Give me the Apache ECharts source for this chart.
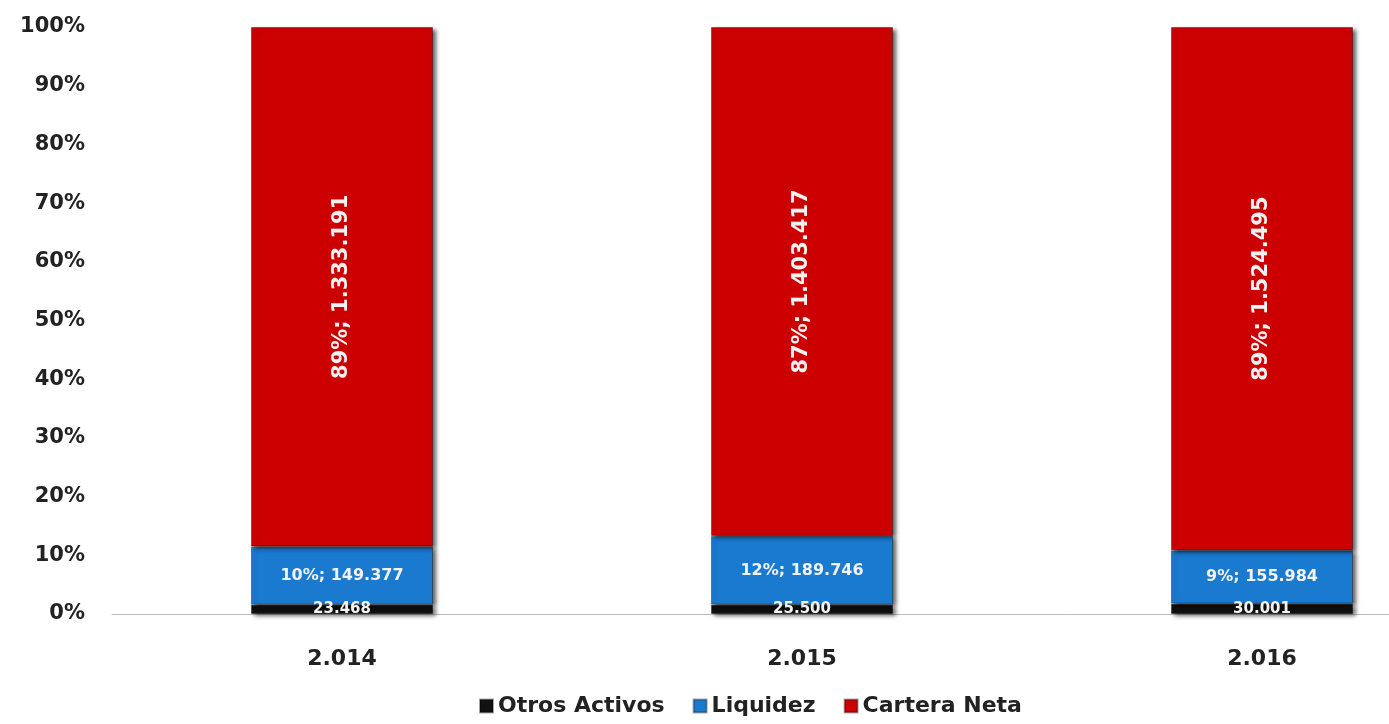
<!DOCTYPE html>
<html>
<head>
<meta charset="utf-8">
<script src="https://cdn.jsdelivr.net/npm/echarts@6/dist/echarts.min.js"></script>
<style>
  body { margin: 0; background: #fff; }
</style>
</head>
<body>
<div id="chart" style="width: 1389px; height: 724px"></div>
<script>
var years = ["2.014", "2.015", "2.016"];
var otrosActivos = [23468, 25500, 30001];
var liquidez = [149377, 189746, 155984];
var carteraNeta = [1333191, 1403417, 1524495];
var yTicks = [0, 10, 20, 30, 40, 50, 60, 70, 80, 90, 100];

// totales por año para el 100% apilado
var totals = years.map(function (y, i) {
  return otrosActivos[i] + liquidez[i] + carteraNeta[i];
});

function fmt(n) {
  return String(n).replace(/\B(?=(\d{3})+(?!\d))/g, ".");
}

function pct(arr) {
  return arr.map(function (v, i) {
    return { value: (v / totals[i]) * 100, raw: v };
  });
}

var font = "DejaVu Sans";
var shadow = {
  borderColor: "rgba(0,0,0,0.35)",
  borderWidth: 1,
  shadowColor: "rgba(0,0,0,0.6)",
  shadowBlur: 4,
  shadowOffsetX: 3,
  shadowOffsetY: 2,
};

var myChart = echarts.init(document.getElementById("chart"));
myChart.setOption({
  animation: false,
  grid: {
    left: 112,
    width: 1380,
    top: 27,
    bottom: 110,
    outerBoundsMode: "none",
    containLabel: false,
  },
  legend: {
    bottom: 2,
    left: 474,
    itemWidth: 13,
    itemHeight: 13,
    itemGap: 28,
    icon: "rect",
    textStyle: {
      fontFamily: font,
      fontWeight: "bold",
      fontSize: 22,
      color: "#222",
    },
    data: ["Otros Activos", "Liquidez", "Cartera Neta"],
  },
  xAxis: {
    type: "category",
    data: years,
    axisLine: { lineStyle: { color: "#bbb", width: 1 } },
    axisTick: { show: false },
    axisLabel: {
      margin: 34,
      fontFamily: font,
      fontWeight: "bold",
      fontSize: 22,
      color: "#222",
    },
  },
  yAxis: {
    type: "value",
    min: 0,
    max: 100,
    interval: 10,
    splitLine: { show: false },
    axisLine: { show: false },
    axisTick: { show: false },
    axisLabel: {
      margin: 27,
      fontFamily: font,
      fontWeight: "bold",
      fontSize: 21,
      color: "#222",
      formatter: function (v) {
        return yTicks.indexOf(v) >= 0 ? v + "%" : "";
      },
    },
  },
  series: [
    {
      name: "Otros Activos",
      type: "bar",
      stack: "total",
      barWidth: 182,
      data: pct(otrosActivos),
      itemStyle: Object.assign({ color: "#111111" }, shadow),
      label: {
        show: true,
        position: "inside",
        offset: [0, -2],
        color: "#f2f2f2",
        fontFamily: font,
        fontWeight: "bold",
        fontSize: 15,
        formatter: function (p) {
          return fmt(p.data.raw);
        },
      },
      labelLayout: { hideOverlap: false },
    },
    {
      name: "Liquidez",
      type: "bar",
      stack: "total",
      data: pct(liquidez),
      itemStyle: Object.assign({ color: "#1a7ad0" }, shadow),
      label: {
        show: true,
        position: "inside",
        color: "#f2f2f2",
        fontFamily: font,
        fontWeight: "bold",
        fontSize: 16,
        formatter: function (p) {
          return Math.round(p.value) + "%; " + fmt(p.data.raw);
        },
      },
    },
    {
      name: "Cartera Neta",
      type: "bar",
      stack: "total",
      data: pct(carteraNeta),
      itemStyle: Object.assign({ color: "#cc0000" }, shadow),
      label: {
        show: true,
        position: "inside",
        rotate: 90,
        color: "#f2f2f2",
        fontFamily: font,
        fontWeight: "bold",
        fontSize: 21,
        formatter: function (p) {
          return Math.round(p.value) + "%; " + fmt(p.data.raw);
        },
      },
    },
  ],
  color: ["#111111", "#1a7ad0", "#cc0000"],
});
</script>
</body>
</html>
